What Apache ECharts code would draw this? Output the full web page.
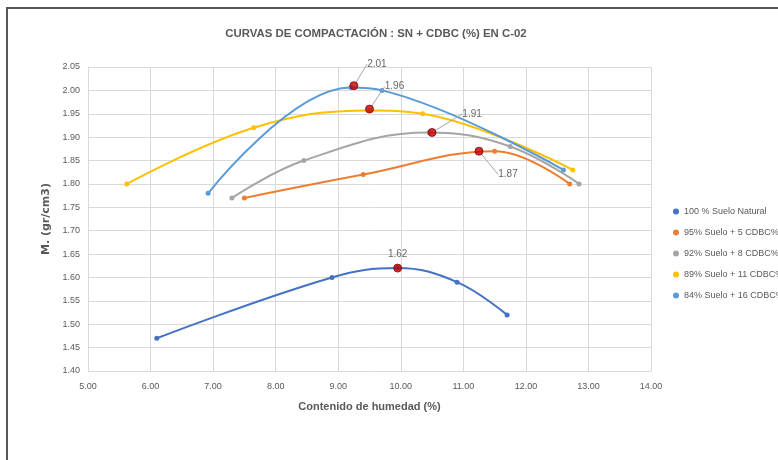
<!DOCTYPE html>
<html><head><meta charset="utf-8">
<script src="https://cdn.jsdelivr.net/npm/echarts@6/dist/echarts.min.js"></script>
<style>html,body{margin:0;padding:0;background:#fff}#c{width:778px;height:460px}</style>
</head><body><div id="c"></div>
<script>
const seriesNames = ["100 % Suelo Natural","95% Suelo + 5 CDBC%","92% Suelo + 8 CDBC%","89% Suelo + 11 CDBC%","84% Suelo + 16 CDBC%"];
const natural = [[6.10,1.47],[8.90,1.60],[9.95,1.62],[10.90,1.59],[11.70,1.52]];
const cdbc5 = [[7.50,1.77],[9.40,1.82],[11.50,1.87],[12.70,1.80]];
const cdbc8 = [[7.30,1.77],[8.45,1.85],[10.45,1.91],[11.75,1.88],[12.85,1.80]];
const cdbc11 = [[5.62,1.80],[7.65,1.92],[9.50,1.957],[10.35,1.95],[12.75,1.83]];
const cdbc16 = [[6.92,1.78],[9.20,2.006],[9.70,2.00],[12.60,1.83]];
const maxima = [[9.95,1.62],[11.25,1.87],[10.50,1.91],[9.50,1.96],[9.25,2.01]];
const maxLabelOffsets = [[0,0],[29,37],[40,-5],[25,-9],[23,-8]];
const colors = ["#4472C4","#ED7D31","#A5A5A5","#FFC000","#5B9BD5"];
const allData = [natural,cdbc5,cdbc8,cdbc11,cdbc16];

const series = allData.map((d,i)=>({
  name: seriesNames[i], type:'line', data:d, smooth:0.4, symbol:'circle', symbolSize:5,
  lineStyle:{width:2,color:colors[i]}, itemStyle:{color:colors[i]}, z:2
}));
maxima.forEach((p,i)=>{
  const off = maxLabelOffsets[i];
  series.push({
    type:'scatter', data:[p], symbolSize:8, z:5,
    itemStyle:{color:'#C00000',borderColor:'#8B0000',borderWidth:1},
    label:{show:true, position:'top', distance:4, formatter:(v)=>v.value[1].toFixed(2), fontSize:10, color:'#404040', fontFamily:'Liberation Sans'},
    labelLayout: {dx:off[0], dy:off[1]},
    labelLine:{show: i!==0, lineStyle:{color:'#A5A5A5',width:1}}
  });
});

const chart = echarts.init(document.getElementById('c'));
chart.setOption({
  animation:false,
  textStyle:{fontFamily:'Liberation Sans'},
  title:{text:'CURVAS DE COMPACTACIÓN : SN + CDBC (%) EN C-02', left:371, top:23, textAlign:'center',
    textStyle:{fontSize:11.4,fontWeight:'bold',color:'#595959',fontFamily:'Liberation Sans'}},
  grid:{left:88,right:127,top:67,bottom:89},
  legend:{orient:'vertical', left:668, top:202, itemGap:12, itemWidth:6, itemHeight:6, icon:'circle',
    data:seriesNames, textStyle:{fontSize:9,color:'#595959'}},
  xAxis:{type:'value', min:5, max:14, interval:1,
    name:'Contenido de humedad (%)', nameLocation:'middle', nameGap:30,
    nameTextStyle:{fontSize:11,fontWeight:'bold',color:'#595959'},
    axisLine:{show:true,lineStyle:{color:'#D9D9D9'}}, axisTick:{show:false},
    axisLabel:{formatter:v=>v.toFixed(2), fontSize:9, color:'#595959', margin:11},
    splitLine:{show:true,lineStyle:{color:'#D9D9D9'}}},
  yAxis:{type:'value', min:1.40, max:2.05, interval:0.05,
    name:'M. (gr/cm3)', nameLocation:'middle', nameGap:32, nameRotate:90,
    nameTextStyle:{fontSize:11,fontWeight:'bold',color:'#595959',fontFamily:'DejaVu Sans'},
    axisLine:{show:true,lineStyle:{color:'#D9D9D9'}}, axisTick:{show:false},
    axisLabel:{formatter:v=>v.toFixed(2), fontSize:9, color:'#595959'},
    splitLine:{show:true,lineStyle:{color:'#D9D9D9'}}},
  graphic:[{type:'polyline', shape:{points:[[7,460],[7,8],[778,8]]}, style:{stroke:'#555',lineWidth:2,fill:null}}],
  series: series
});
</script></body></html>
